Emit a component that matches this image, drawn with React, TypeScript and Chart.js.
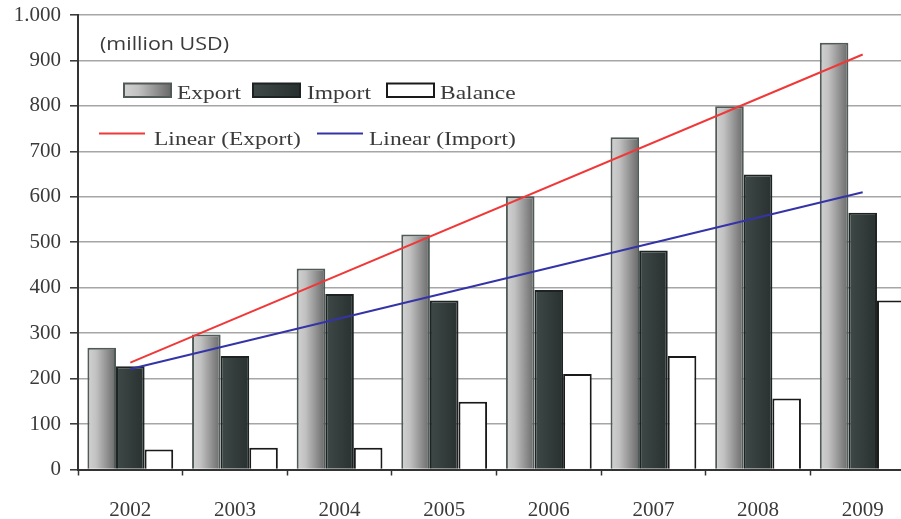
import React, { useEffect, useRef } from "react";
import { Chart, registerables } from "chart.js";

Chart.register(...registerables);

const categories = ["2002", "2003", "2004", "2005", "2006", "2007", "2008", "2009"];
const exportValues = [268, 297, 442, 517, 601, 731, 799, 939];
const importValues = [227, 250, 386, 372, 395, 482, 649, 565];
const balanceValues = [44, 48, 48, 149, 210, 250, 156, 372];
// Trend lines (start at 2002, end at 2009)
const exportTrend = [235, null, null, null, null, null, null, 913];
const importTrend = [221, null, null, null, null, null, null, 610];
const yTickLabels = ["0", "100", "200", "300", "400", "500", "600", "700", "800", "900", "1.000"];
const unitNote = "(million USD)";
const legendBars = ["Export", "Import", "Balance"];
const legendLines = ["Linear (Export)", "Linear (Import)"];

const CAT_PCT = 0.82;
const SERIF = "'Liberation Serif', 'Times New Roman', serif";
const TEXT = "#3a3a3a";

function exportGradient(ctx: CanvasRenderingContext2D, left: number, w: number) {
  const g = ctx.createLinearGradient(left, 0, left + w, 0);
  g.addColorStop(0, "#d2d2d2");
  g.addColorStop(0.3, "#c2c2c2");
  g.addColorStop(1, "#686868");
  return g;
}
function importGradient(ctx: CanvasRenderingContext2D, left: number, w: number) {
  const g = ctx.createLinearGradient(left, 0, left + w, 0);
  g.addColorStop(0, "#3f4947");
  g.addColorStop(1, "#283130");
  return g;
}

function barFill(kind: number) {
  return (c: any) => {
    const chart = c.chart;
    const xs = chart.scales && chart.scales.x;
    if (!chart.chartArea || !xs || c.dataIndex === undefined) return kind === 0 ? "#b0b0b0" : "#333c3b";
    const center = xs.getPixelForValue(c.dataIndex);
    const catW = xs.width / categories.length;
    const bw = (catW * CAT_PCT) / 3;
    const left = center - 1.5 * bw + kind * bw;
    return kind === 0 ? exportGradient(chart.ctx, left, bw) : importGradient(chart.ctx, left, bw);
  };
}

const legendPlugin = {
  id: "customLegend",
  afterDatasetsDraw(chart: any) {
    const ctx: CanvasRenderingContext2D = chart.ctx;
    ctx.save();
    // unit note
    ctx.font = "18px 'Open Sans', sans-serif";
    ctx.fillStyle = TEXT;
    ctx.textBaseline = "alphabetic";
    ctx.textAlign = "left";
    const nw = ctx.measureText(unitNote).width;
    ctx.save();
    ctx.translate(100, 50);
    ctx.scale(129 / nw, 1);
    ctx.fillText(unitNote, 0, 0);
    ctx.restore();

    const sx = 1.27;
    const drawText = (t: string, x: number, y: number) => {
      ctx.save();
      ctx.translate(x, y);
      ctx.scale(sx, 1);
      ctx.font = `18.5px ${SERIF}`;
      ctx.fillStyle = TEXT;
      ctx.fillText(t, 0, 0);
      ctx.restore();
    };
    // bar swatches
    const swX = [124, 253, 387];
    const txX = [177, 307, 440];
    const sy = 83.5, sh = 13.5, sw = 47;
    swX.forEach((x, i) => {
      if (i === 0) {
        ctx.fillStyle = exportGradient(ctx, x, sw);
        ctx.strokeStyle = "#505a57";
      } else if (i === 1) {
        ctx.fillStyle = importGradient(ctx, x, sw);
        ctx.strokeStyle = "#1d2322";
      } else {
        ctx.fillStyle = "#ffffff";
        ctx.strokeStyle = "#1a1a1a";
      }
      ctx.lineWidth = 2;
      ctx.fillRect(x, sy, sw, sh);
      ctx.strokeRect(x, sy, sw, sh);
      drawText(legendBars[i], txX[i], 98.5);
    });
    // line swatches
    const lx = [99, 317];
    const ltx = [154, 369];
    const lc = ["#f03838", "#3434a8"];
    lx.forEach((x, i) => {
      ctx.strokeStyle = lc[i];
      ctx.lineWidth = 1.8;
      ctx.beginPath();
      ctx.moveTo(x, 133.5);
      ctx.lineTo(x + 46, 133.5);
      ctx.stroke();
      drawText(legendLines[i], ltx[i], 145);
    });
    ctx.restore();
  },
};

export default function App() {
  const ref = useRef<HTMLCanvasElement | null>(null);
  useEffect(() => {
    if (!ref.current) return;
    const chart = new Chart(ref.current, {
      type: "bar",
      data: {
        labels: categories,
        datasets: [
          {
            type: "line",
            label: "Linear (Export)",
            data: exportTrend as any,
            borderColor: "#f03838",
            borderWidth: 2,
            pointRadius: 0,
            spanGaps: true,
            order: 0,
          } as any,
          {
            type: "line",
            label: "Linear (Import)",
            data: importTrend as any,
            borderColor: "#3434a8",
            borderWidth: 2,
            pointRadius: 0,
            spanGaps: true,
            order: 0,
          } as any,
          {
            label: "Export",
            data: exportValues,
            backgroundColor: barFill(0),
            borderColor: "#505a57",
            borderWidth: 2,
            order: 1,
          },
          {
            label: "Import",
            data: importValues,
            backgroundColor: barFill(1),
            borderColor: "#1d2322",
            borderWidth: 2,
            order: 1,
          },
          {
            label: "Balance",
            data: balanceValues,
            backgroundColor: "#ffffff",
            borderColor: "#1a1a1a",
            borderWidth: 2,
            order: 1,
          },
        ],
      },
      options: {
        animation: false,
        responsive: false,
        devicePixelRatio: 1,
        layout: { padding: { top: 15, right: 15, left: 0, bottom: 0 } },
        datasets: { bar: { categoryPercentage: CAT_PCT, barPercentage: 1 } },
        plugins: { legend: { display: false }, tooltip: { enabled: false } },
        scales: {
          x: {
            offset: true,
            grid: {
              offset: true,
              drawOnChartArea: false,
              drawTicks: true,
              tickLength: 6,
              tickColor: "#333",
              tickWidth: 1.5,
            },
            border: { display: true, color: "#333", width: 2 },
            ticks: {
              font: { family: SERIF, size: 21 },
              color: TEXT,
              padding: 22,
              maxRotation: 0,
              autoSkip: false,
            },
            afterFit: (s: any) => {
              s.height = 49.5;
              s.paddingLeft = 0;
              s.paddingRight = 0;
            },
          },
          y: {
            min: 0,
            max: 1000,
            ticks: {
              stepSize: 100,
              font: { family: SERIF, size: 21 },
              color: TEXT,
              padding: 9,
              callback: (_v: any, i: number) => yTickLabels[i],
            },
            grid: {
              color: "#a6a6a6",
              lineWidth: 1.6,
              drawTicks: true,
              tickLength: 8,
              tickColor: "#333",
              tickWidth: 1.5,
            },
            border: { display: true, color: "#333", width: 2 },
            afterFit: (s: any) => {
              s.width = 78;
              s.paddingTop = 0;
              s.paddingBottom = 0;
            },
          },
        },
      },
      plugins: [legendPlugin],
    });
    return () => chart.destroy();
  }, []);

  return (
    <div
      style={{
        position: "fixed",
        left: 0,
        top: 0,
        width: 901,
        height: 519,
        overflow: "hidden",
        background: "#ffffff",
      }}
    >
      <canvas ref={ref} width={930} height={519} style={{ display: "block" }} />
    </div>
  );
}
